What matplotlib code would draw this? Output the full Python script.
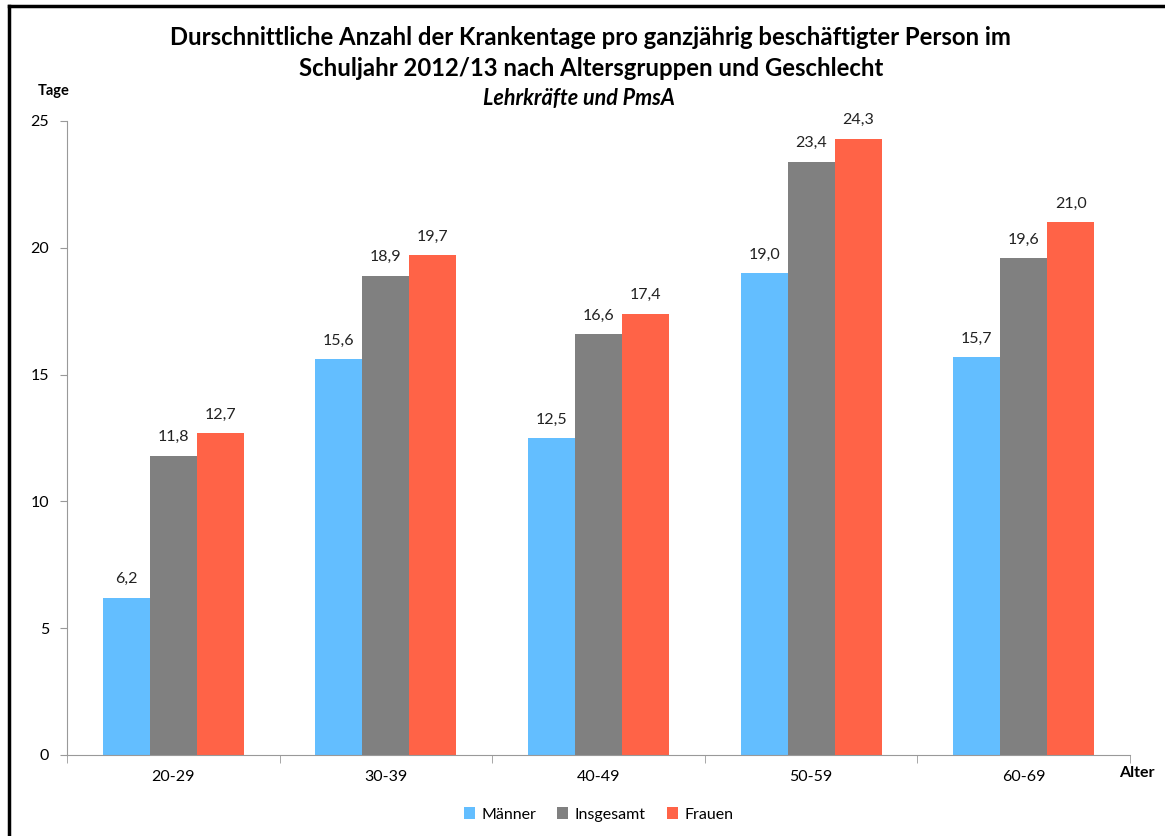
import numpy as np
import matplotlib.pyplot as plt
import matplotlib
from matplotlib.lines import Line2D

matplotlib.rc('font', family=['Lato', 'DejaVu Sans'], size=11)

groups = ['20-29', '30-39', '40-49', '50-59', '60-69']
maenner = [6.2, 15.6, 12.5, 19.0, 15.7]
insgesamt = [11.8, 18.9, 16.6, 23.4, 19.6]
frauen = [12.7, 19.7, 17.4, 24.3, 21.0]
series = [('Männer', maenner, '#63BEFF'),
          ('Insgesamt', insgesamt, '#808080'),
          ('Frauen', frauen, '#FF6347')]

fig = plt.figure(figsize=(11.65, 8.36), dpi=100)
ax = fig.add_axes([0.0575, 0.0969, 0.9125, 0.7584])

x = np.arange(len(groups))
w = 0.221
for i, (name, vals, col) in enumerate(series):
    pos = x + (i - 1) * w
    ax.bar(pos, vals, w, color=col, label=name)
    for p, v in zip(pos, vals):
        ax.text(p, v + 0.45, ('%.1f' % v).replace('.', ','), ha='center',
                va='bottom', fontsize=11.5, color='#222222')

ax.set_xlim(-0.5, len(groups) - 0.5)
ax.set_ylim(0, 25)
ax.set_yticks([0, 5, 10, 15, 20, 25])
ax.set_xticks(x)
ax.set_xticklabels(groups)
ax.set_xticks(np.arange(len(groups) + 1) - 0.5, minor=True)
ax.tick_params(axis='x', which='major', length=0, pad=11, labelsize=11.5)
ax.tick_params(axis='x', which='minor', length=6, color='#999999')
ax.tick_params(axis='y', length=5, color='#999999', pad=8, labelsize=11.5)
for s in ['top', 'right']:
    ax.spines[s].set_visible(False)
for s in ['left', 'bottom']:
    ax.spines[s].set_color('#999999')

fig.text(0.507, 0.955, 'Durschnittliche Anzahl der Krankentage pro ganzjährig beschäftigter Person im',
         ha='center', va='center', fontsize=17.2, fontweight='bold')
fig.text(0.507, 0.918, 'Schuljahr 2012/13 nach Altersgruppen und Geschlecht',
         ha='center', va='center', fontsize=17.2, fontweight='bold')
fig.text(0.497, 0.882, 'Lehrkräfte und PmsA', ha='center', va='center',
         fontsize=15.5, fontweight='bold', style='italic')
fig.text(0.032, 0.891, 'Tage', ha='left', va='center', fontsize=10.5, fontweight='bold')
fig.text(0.976, 0.075, 'Alter', ha='center', va='center', fontsize=11.5, fontweight='bold')

ax.legend(loc='center', bbox_to_anchor=(0.5, -0.094), ncol=3, frameon=False,
          handlelength=0.7, handleheight=0.7, handletextpad=0.4, columnspacing=1.3,
          fontsize=11.5)

# frame line on left and top like the source image
fig.add_artist(Line2D([0.008, 0.008], [0, 0.993], color='black', lw=2.5,
                      transform=fig.transFigure))
fig.add_artist(Line2D([0.008, 1.0], [0.993, 0.993], color='black', lw=2.5,
                      transform=fig.transFigure))

plt.savefig('out.png', dpi=100)
